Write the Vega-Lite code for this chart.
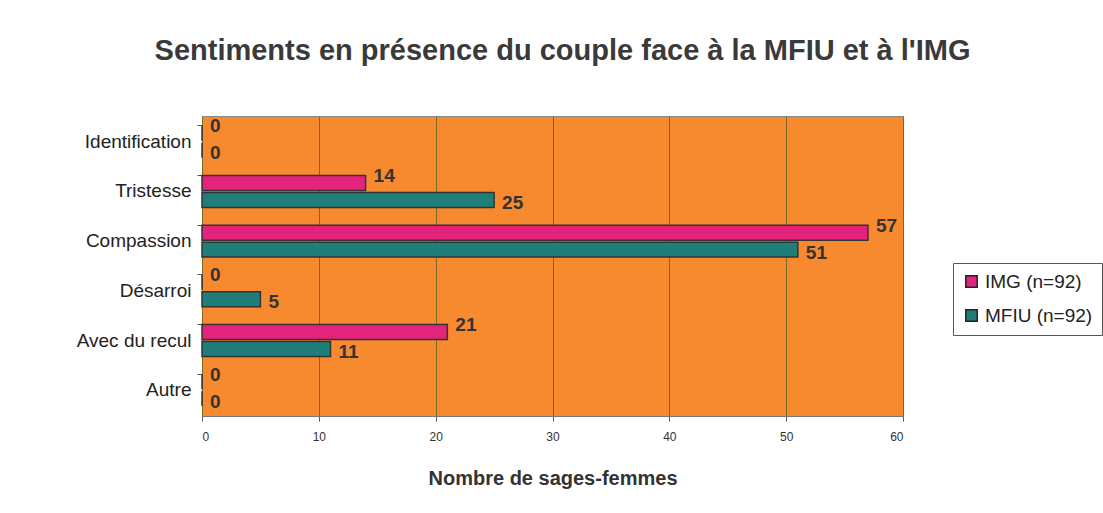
{
  "$schema": "https://vega.github.io/schema/vega-lite/v6.json",
  "width": 701,
  "height": 300,
  "autosize": {"type": "none"},
  "padding": {"left": 202, "top": 116, "right": 200, "bottom": 97},
  "background": "#ffffff",
  "title": {
    "text": "Sentiments en présence du couple face à la MFIU et à l'IMG",
    "font": "Liberation Sans",
    "fontSize": 29,
    "fontWeight": "bold",
    "color": "#3a3a3a",
    "anchor": "middle",
    "offset": 50,
    "dx": 10
  },
  "data": {
    "values": [
      {"sentiment": "Identification", "serie": "IMG (n=92)", "n": 0},
      {"sentiment": "Identification", "serie": "MFIU (n=92)", "n": 0},
      {"sentiment": "Tristesse", "serie": "IMG (n=92)", "n": 14},
      {"sentiment": "Tristesse", "serie": "MFIU (n=92)", "n": 25},
      {"sentiment": "Compassion", "serie": "IMG (n=92)", "n": 57},
      {"sentiment": "Compassion", "serie": "MFIU (n=92)", "n": 51},
      {"sentiment": "Désarroi", "serie": "IMG (n=92)", "n": 0},
      {"sentiment": "Désarroi", "serie": "MFIU (n=92)", "n": 5},
      {"sentiment": "Avec du recul", "serie": "IMG (n=92)", "n": 21},
      {"sentiment": "Avec du recul", "serie": "MFIU (n=92)", "n": 11},
      {"sentiment": "Autre", "serie": "IMG (n=92)", "n": 0},
      {"sentiment": "Autre", "serie": "MFIU (n=92)", "n": 0}
    ]
  },
  "encoding": {
    "y": {
      "field": "sentiment",
      "type": "nominal",
      "sort": ["Identification", "Tristesse", "Compassion", "Désarroi", "Avec du recul", "Autre"],
      "scale": {"paddingInner": 0.36, "paddingOuter": 0.2},
      "axis": {
        "title": null,
        "labelFont": "Liberation Sans",
        "labelFontSize": 19,
        "labelColor": "#222222",
        "labelPadding": 6,
        "tickSize": 5,
        "tickColor": "#555555",
        "domain": false,
        "ticks": true,
        "bandPosition": 0
      }
    },
    "yOffset": {
      "field": "serie",
      "type": "nominal",
      "sort": ["IMG (n=92)", "MFIU (n=92)"],
      "scale": {"paddingInner": 0.12}
    },
    "x": {
      "field": "n",
      "type": "quantitative",
      "scale": {"domain": [0, 60]},
      "axis": {
        "title": "Nombre de sages-femmes",
        "titleFont": "Liberation Sans",
        "titleFontSize": 20,
        "titleFontWeight": "bold",
        "titleColor": "#333333",
        "titlePadding": 26,
        "labelFont": "Liberation Sans",
        "labelFontSize": 12,
        "labelColor": "#333333",
        "labelPadding": 10,
        "values": [0, 10, 20, 30, 40, 50, 60],
        "grid": true,
        "gridColor": "#7a6a1e",
        "gridWidth": 1,
        "tickColor": "#555555",
        "domainColor": "#777777"
      }
    }
  },
  "layer": [
    {
      "mark": {"type": "bar", "stroke": "#333333", "strokeWidth": 1.5},
      "encoding": {
        "color": {
          "field": "serie",
          "type": "nominal",
          "scale": {"domain": ["IMG (n=92)", "MFIU (n=92)"], "range": ["#e4247c", "#1f7f78"]},
          "legend": {
            "title": null,
            "orient": "none",
            "legendX": 751,
            "legendY": 147,
            "symbolType": "square",
            "symbolSize": 130,
            "symbolStrokeColor": "#222222",
            "symbolStrokeWidth": 1.5,
            "labelFont": "Liberation Sans",
            "labelFontSize": 19,
            "labelColor": "#222222",
            "rowPadding": 14,
            "padding": 9,
            "strokeColor": "#555555",
            "fillColor": "#ffffff"
          }
        }
      }
    },
    {
      "transform": [{"filter": "datum.serie == 'IMG (n=92)'"}],
      "mark": {
        "type": "text",
        "align": "left",
        "baseline": "middle",
        "dx": 8,
        "dy": -7,
        "font": "Liberation Sans",
        "fontSize": 19,
        "fontWeight": "bold",
        "color": "#333333"
      },
      "encoding": {"text": {"field": "n", "type": "quantitative"}}
    },
    {
      "transform": [{"filter": "datum.serie == 'MFIU (n=92)'"}],
      "mark": {
        "type": "text",
        "align": "left",
        "baseline": "middle",
        "dx": 8,
        "dy": 3,
        "font": "Liberation Sans",
        "fontSize": 19,
        "fontWeight": "bold",
        "color": "#333333"
      },
      "encoding": {"text": {"field": "n", "type": "quantitative"}}
    }
  ],
  "config": {
    "view": {"fill": "#f7892f", "stroke": "#888888"},
    "font": "Liberation Sans"
  }
}
